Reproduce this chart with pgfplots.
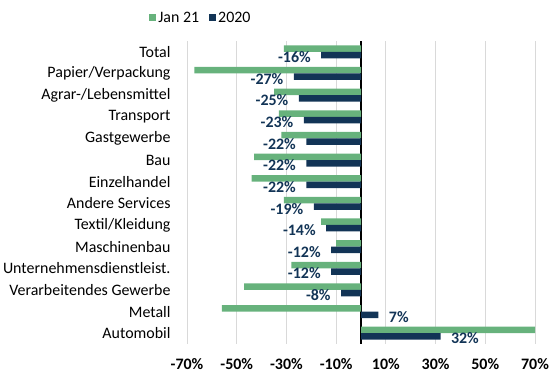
\documentclass[border=0pt]{standalone}
\usepackage{pgfplots}
\pgfplotsset{compat=1.18}
\usepackage{fontspec}
\setmainfont{Carlito}
\definecolor{cgreen}{RGB}{103,178,124}
\definecolor{cnavy}{RGB}{18,52,86}
\definecolor{cgrid}{RGB}{217,217,217}
\newcommand{\fs}{\fontsize{16}{18}\selectfont}
\begin{document}
\begin{tikzpicture}
\begin{axis}[
  name=ax,
  scale only axis,
  width=348bp, height=303bp,
  xmin=-70, xmax=70,
  ymin=-0.5, ymax=13.5,
  y dir=reverse,
  xbar, bar width=6.5bp,
  xtick={-70,-50,-30,-10,10,30,50,70},
  xticklabel={\pgfmathprintnumber{\tick}\%},
  xticklabel style={font=\fs\bfseries, yshift=-11bp},
  ytick={0,...,13},
  yticklabels={Total,Papier/Verpackung,Agrar-/Lebensmittel,Transport,Gastgewerbe,Bau,Einzelhandel,Andere Services,Textil/Kleidung,Maschinenbau,Unternehmensdienstleist.,Verarbeitendes Gewerbe,Metall,Automobil},
  yticklabel style={font=\fs, xshift=-13bp},
  /pgf/number format/assume math mode=true,
  major tick length=0pt,
  axis line style={draw=none},
  xmajorgrids, grid style={cgrid, line width=0.8bp},
  extra x ticks={0}, extra x tick labels={},
  extra x tick style={grid style={black, line width=1.6bp}},
  legend style={draw=none, fill=none, legend columns=2, at={(0.04,1.076)}, anchor=center,
    font=\fs, /tikz/every even column/.append style={column sep=8bp}},
  legend image code/.code={\fill[#1] (0bp,-3.5bp) rectangle (7bp,3.5bp);},
]
\addplot[fill=cgreen, draw=none, bar shift=3.25bp] coordinates {
(-31,0) (-67,1) (-35,2) (-33,3) (-32,4) (-43,5) (-44,6) (-31,7) (-16,8) (-10,9) (-28,10) (-47,11) (-56,12) (70,13)};
\addlegendentry{Jan 21}
\addplot[fill=cnavy, draw=none, bar shift=-3.25bp,
  nodes near coords={\pgfmathprintnumber{\pgfplotspointmeta}\%},
  nodes near coords style={font=\fs\bfseries, text=cnavy, xshift=-7bp, yshift=-2bp},
  ] coordinates {
(-16,0) (-27,1) (-25,2) (-23,3) (-22,4) (-22,5) (-22,6) (-19,7) (-14,8) (-12,9) (-12,10) (-8,11)};
\addlegendentry{2020}
\addplot[fill=cnavy, draw=none, bar shift=-3.25bp, forget plot,
  nodes near coords={\pgfmathprintnumber{\pgfplotspointmeta}\%},
  nodes near coords style={font=\fs\bfseries, text=cnavy, xshift=7bp, yshift=-2bp},
  ] coordinates {
(7,12) (32,13)};
\end{axis}
\pgfresetboundingbox
\path ([xshift=-187bp,yshift=-31bp]ax.south west) rectangle ([xshift=24bp,yshift=41bp]ax.north east);
\end{tikzpicture}
\end{document}
